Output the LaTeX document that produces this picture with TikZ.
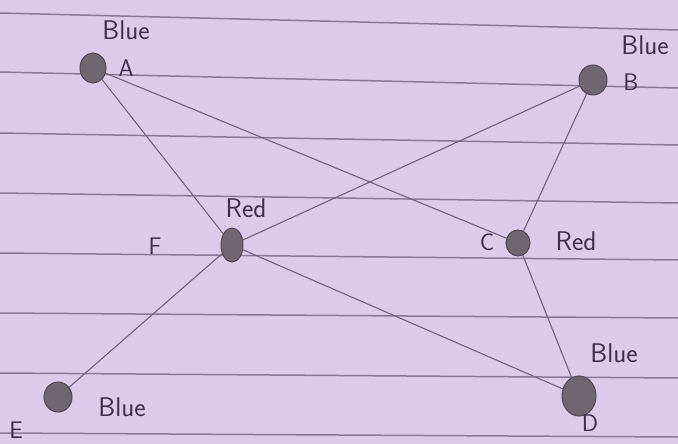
\documentclass[tikz,border=0pt]{standalone}
\usetikzlibrary{shapes.geometric}
\definecolor{paper}{RGB}{221,201,233}
\definecolor{rule}{RGB}{140,120,150}
\definecolor{blob}{RGB}{112,102,112}
\definecolor{blobedge}{RGB}{80,70,85}
\definecolor{pencil}{RGB}{112,98,120}
\definecolor{ink}{RGB}{62,44,78}
\tikzset{
  vtx/.style={ellipse, fill=blob, draw=blobedge, line width=1pt, inner sep=0pt},
  edge/.style={draw=pencil, line width=1.1pt},
  ruleline/.style={draw=rule, line width=1.5pt},
  lbl/.style={text=ink, font=\sffamily\fontsize{27}{30}\selectfont, inner sep=0pt},
  letter/.style={text=ink, font=\sffamily\fontsize{24}{28}\selectfont, inner sep=0pt}
}
\begin{document}
\begin{tikzpicture}[x=1pt,y=-1pt]
\fill[paper] (0,0) rectangle (678,444);
\useasboundingbox (0,0) rectangle (678,444);
% ruled lines
\foreach \l/\r in {13/30,72/88,133/145,193/203,253/260,313/318,373/378,433/437}
  \draw[ruleline] (0,\l) -- (678,\r);
% vertices
\node[vtx, minimum width=26pt, minimum height=30pt] (A) at (93,68) {};
\node[vtx, minimum width=28pt, minimum height=30pt] (B) at (593,80) {};
\node[vtx, minimum width=24pt, minimum height=26pt] (C) at (518,243) {};
\node[vtx, minimum width=22pt, minimum height=34pt] (F) at (232,245) {};
\node[vtx, minimum width=28pt, minimum height=30pt] (E) at (58,397) {};
\node[vtx, minimum width=34pt, minimum height=40pt] (D) at (579,396) {};
% edges
\draw[edge] (A) -- (C);
\draw[edge] (A) -- (F);
\draw[edge] (B) -- (F);
\draw[edge] (B) -- (C);
\draw[edge] (F) -- (E);
\draw[edge] (F) -- (D);
\draw[edge] (C) -- (D);
% labels
\node[lbl] (lA) at (126,30) {Blue};
\node[letter] (nA) at (126,68) {A};
\node[lbl] (lB) at (645,45) {Blue};
\node[letter] (nB) at (631,82) {B};
\node[lbl] (lF) at (246,208) {Red};
\node[letter] (nF) at (155,246) {F};
\node[letter] (nC) at (487,242) {C};
\node[lbl] (lC) at (576,241) {Red};
\node[lbl] (lE) at (122,407) {Blue};
\node[letter] (nE) at (16,430) {E};
\node[lbl] (lD) at (614,353) {Blue};
\node[letter] (nD) at (590,423) {D};
\end{tikzpicture}
\end{document}
